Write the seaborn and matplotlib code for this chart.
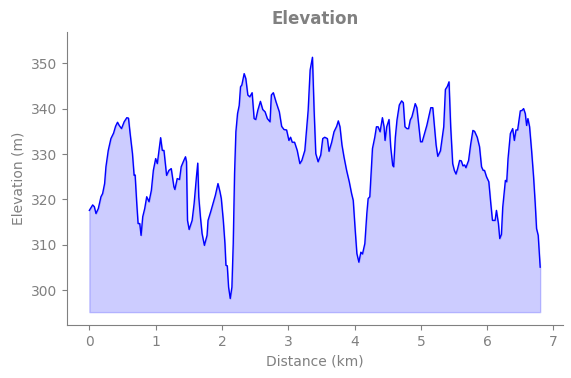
import numpy as np
import pandas as pd
import seaborn as sns
import matplotlib.pyplot as plt

distance_km = [
    0.00, 0.05, 0.075, 0.10, 0.135, 0.175, 0.20, 0.23, 0.25, 0.285, 0.325, 0.365, 0.395, 0.425,
    0.45, 0.485, 0.525, 0.565, 0.59, 0.615, 0.65, 0.675, 0.69, 0.715, 0.735, 0.76, 0.78, 0.805,
    0.835, 0.865, 0.90, 0.935, 0.965, 1.00, 1.025, 1.05, 1.075, 1.10, 1.125, 1.165, 1.20, 1.235,
    1.275, 1.29, 1.325, 1.36, 1.385, 1.425, 1.45, 1.465, 1.48, 1.505, 1.55, 1.58, 1.615, 1.635,
    1.65, 1.675, 1.70, 1.735, 1.775, 1.79, 1.83, 1.865, 1.90, 1.94, 1.97, 1.99, 2.02, 2.045,
    2.06, 2.08, 2.10, 2.125, 2.15, 2.17, 2.19, 2.21, 2.235, 2.26, 2.28, 2.30,
    2.335, 2.36, 2.39, 2.42, 2.455, 2.485, 2.51, 2.54, 2.58, 2.615, 2.65, 2.685, 2.725, 2.745,
    2.775, 2.815, 2.865, 2.90, 2.935, 2.975, 3.01, 3.035, 3.06, 3.095, 3.135, 3.175, 3.205, 3.25,
    3.30, 3.33, 3.365, 3.39, 3.415, 3.45, 3.49, 3.52, 3.55, 3.59, 3.615, 3.655, 3.69, 3.73,
    3.755, 3.78, 3.81, 3.84, 3.88, 3.92, 3.955, 3.98, 4.01, 4.035, 4.065, 4.095, 4.12, 4.155,
    4.185, 4.205, 4.23, 4.27, 4.305, 4.33, 4.355, 4.385, 4.42, 4.445, 4.46, 4.485, 4.52, 4.545,
    4.575, 4.59, 4.615, 4.64, 4.675, 4.71, 4.735, 4.76, 4.79, 4.815, 4.84, 4.865, 4.89, 4.915,
    4.94, 4.97, 4.995, 5.02, 5.055, 5.09, 5.12, 5.15, 5.18, 5.205, 5.23, 5.255, 5.295, 5.32,
    5.345, 5.37, 5.40, 5.425, 5.45, 5.48, 5.505, 5.53, 5.555, 5.585, 5.61, 5.635, 5.66, 5.68,
    5.72, 5.75, 5.785, 5.81, 5.85, 5.885, 5.915, 5.94, 5.96, 5.99, 6.025, 6.055, 6.08, 6.12,
    6.14, 6.17, 6.19, 6.215, 6.235, 6.275, 6.295, 6.315, 6.35, 6.385, 6.41, 6.435, 6.46, 6.50,
    6.525, 6.55, 6.575, 6.595, 6.615, 6.64, 6.67, 6.70, 6.725, 6.745, 6.77, 6.80,
]

elevation_m = [
    317.6, 318.8, 318.4, 316.9, 318.0, 320.6, 321.3, 323.5, 327.2, 330.8, 333.4, 334.6, 336.1, 337.0,
    336.3, 335.6, 337.1, 338.0, 337.9, 334.5, 330.1, 325.3, 325.4, 319.1, 314.7, 314.7, 312.1, 316.2,
    318.0, 320.6, 319.5, 322.0, 326.4, 329.0, 327.9, 330.8, 333.6, 330.8, 330.8, 325.3, 326.4, 326.8,
    322.8, 322.2, 324.6, 324.4, 327.2, 328.6, 329.4, 328.3, 315.4, 313.4, 315.4, 319.1, 325.0, 328.0,
    320.6, 316.2, 312.5, 309.9, 312.1, 315.4, 317.3, 319.1, 320.9, 323.5, 321.7, 320.2, 315.4, 310.3,
    305.5, 305.4, 300.7, 298.2, 300.7, 310.3, 325.7, 334.9, 338.9, 340.7, 344.8, 345.2,
    347.7, 346.6, 343.0, 342.6, 343.5, 337.8, 337.6, 339.6, 341.6, 339.8, 339.3, 337.8, 337.1, 343.0,
    343.5, 341.5, 339.3, 336.1, 335.4, 335.3, 333.0, 333.7, 332.6, 332.6, 330.8, 327.9, 328.6, 330.8,
    339.6, 348.5, 351.3, 339.6, 330.1, 328.3, 329.8, 333.4, 333.7, 333.4, 330.6, 332.6, 334.9, 336.1,
    337.3, 336.0, 332.0, 329.4, 326.4, 323.9, 321.3, 319.8, 313.2, 308.1, 306.2, 308.4, 308.0, 310.3,
    316.9, 320.2, 320.6, 331.2, 333.7, 336.0, 336.0, 334.9, 338.0, 336.0, 333.0, 336.0, 337.6, 331.6,
    327.5, 327.2, 333.7, 337.5, 340.8, 341.7, 341.3, 336.0, 335.6, 335.6, 337.5, 338.2, 339.6, 341.1,
    340.2, 336.0, 332.7, 332.7, 334.5, 336.3, 338.2, 340.2, 340.2, 336.0, 332.0, 329.5, 330.7, 333.4,
    336.0, 344.2, 344.9, 345.9, 336.0, 327.9, 326.4, 325.6, 326.8, 328.6, 328.5, 327.4, 327.6, 327.0,
    328.6, 332.0, 335.2, 335.0, 333.7, 331.6, 327.2, 326.4, 326.4, 325.0, 323.9, 319.1, 315.4, 315.4,
    317.6, 314.7, 311.4, 312.3, 318.3, 324.2, 323.9, 329.0, 334.5, 335.6, 333.0, 335.3, 335.3, 339.5,
    339.6, 340.0, 338.9, 336.3, 337.8, 336.0, 330.8, 325.0, 319.1, 313.6, 312.1, 305.1,
]

fill_base = 295.2

df = pd.DataFrame({"distance": distance_km, "elevation": elevation_m})

grey = "#808080"
plt.rcParams["text.color"] = grey
plt.rcParams["axes.labelcolor"] = grey
plt.rcParams["xtick.color"] = grey
plt.rcParams["ytick.color"] = grey
plt.rcParams["axes.edgecolor"] = grey

fig, ax = plt.subplots(figsize=(5.71, 3.78), dpi=100)
fig.subplots_adjust(left=0.117, right=0.9855, top=0.9146, bottom=0.1394)

sns.lineplot(data=df, x="distance", y="elevation", color="blue", linewidth=1, ax=ax)
ax.fill_between(df["distance"], df["elevation"], fill_base, color="blue", alpha=0.2)

ax.set_ylim(292.3, 356.8)
ax.set_title("Elevation", fontsize=12, fontweight="bold", color=grey)
ax.set_xlabel("Distance (km)", fontsize=10)
ax.set_ylabel("Elevation (m)", fontsize=10)
ax.tick_params(labelsize=10)
sns.despine(ax=ax)

fig.savefig("out.png", dpi=100)
